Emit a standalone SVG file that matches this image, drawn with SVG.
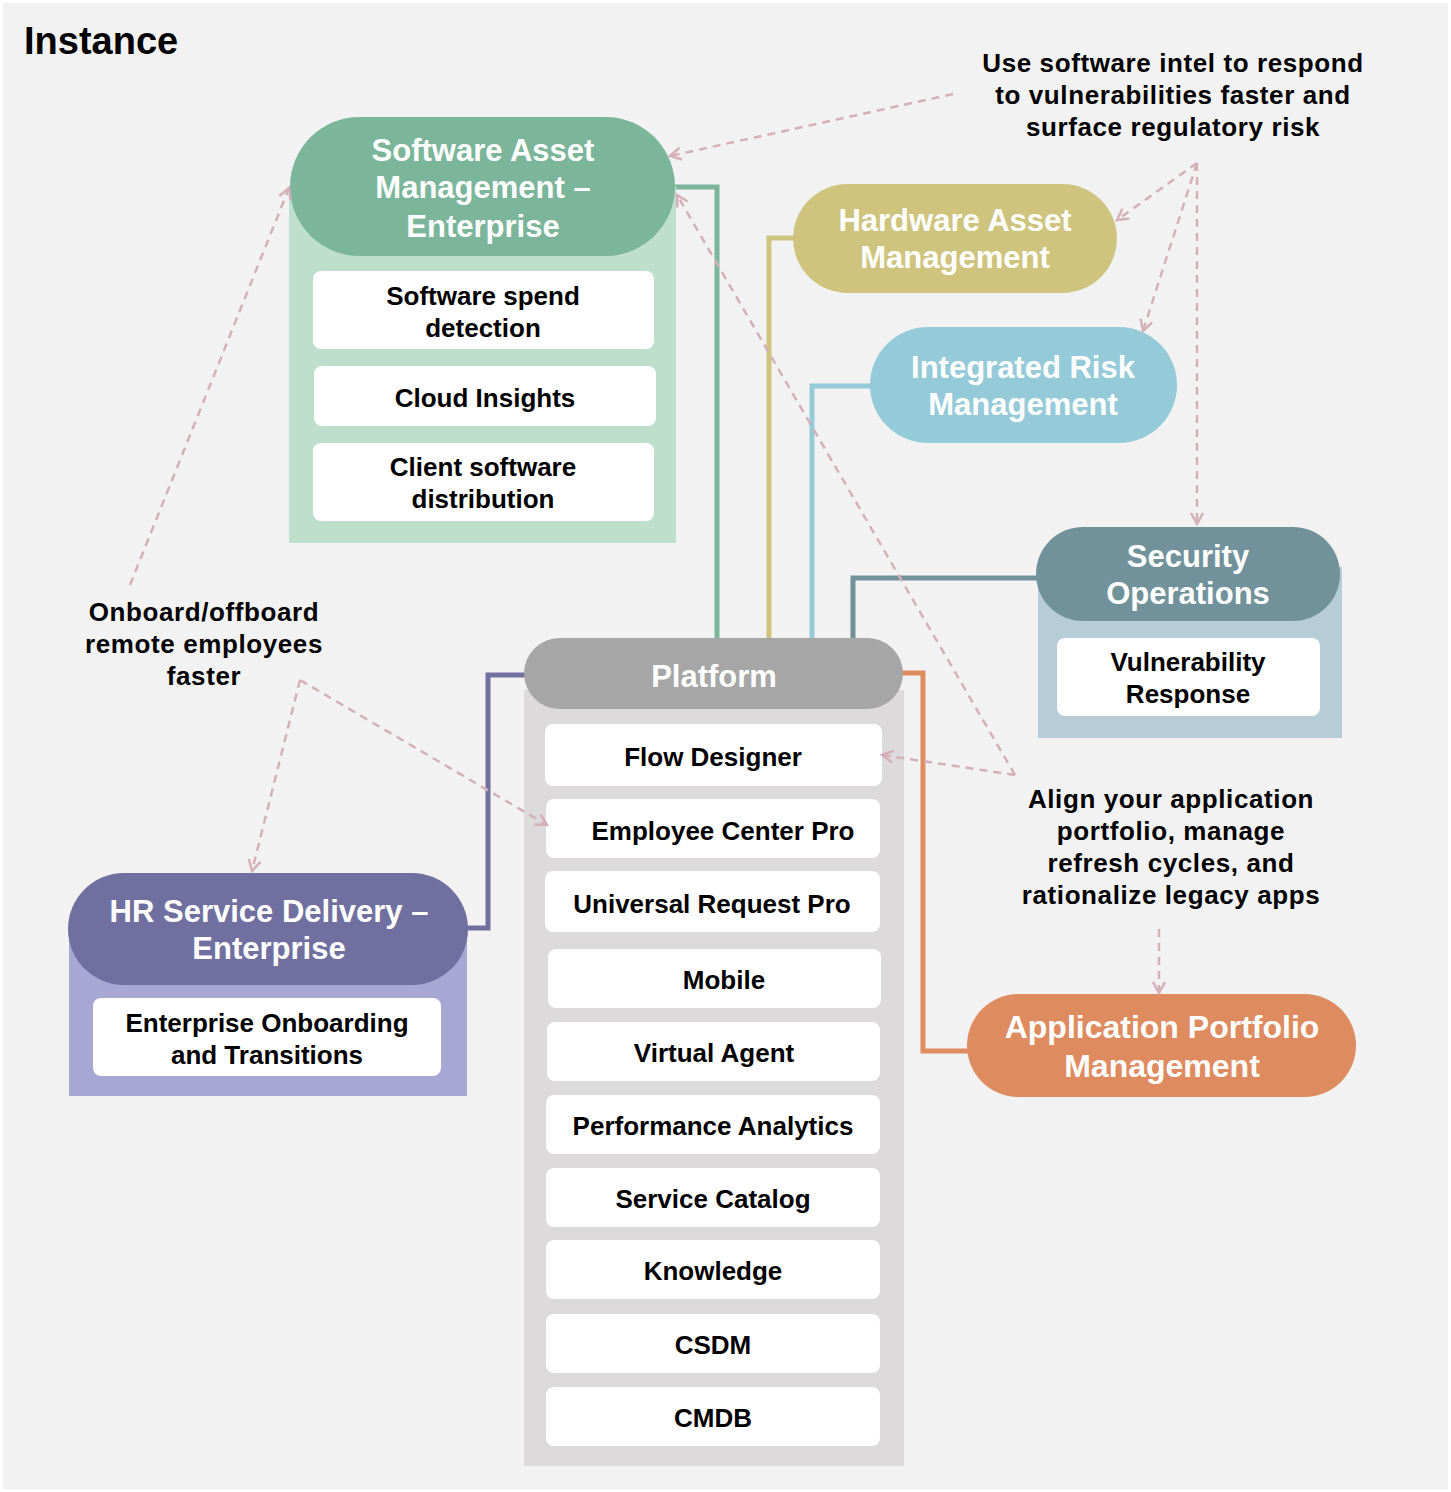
<svg xmlns="http://www.w3.org/2000/svg" width="1451" height="1492" viewBox="0 0 1451 1492">
<style>
text{font-family:"Liberation Sans","DejaVu Sans",sans-serif;font-weight:bold;text-anchor:middle}
.hd{fill:#ffffff;font-size:31px}
.it{fill:#000000;font-size:26px}
.an{fill:#000000;font-size:26px;letter-spacing:0.6px}
.box{fill:#ffffff}
.conn{fill:none;stroke-width:5;stroke-linejoin:miter}
.dash{fill:none;stroke:#d5b0b8;stroke-width:2.5;stroke-dasharray:8 6;marker-end:url(#arr)}
</style>
<defs>
<marker id="arr" markerUnits="userSpaceOnUse" markerWidth="16" markerHeight="16" refX="13" refY="7" orient="auto">
<path d="M2,1 L13,7 L2,13" fill="none" stroke="#d5b0b8" stroke-width="2.5"/>
</marker>
</defs>
<rect x="0" y="0" width="1451" height="1492" fill="#ffffff"/>
<rect x="3" y="3" width="1445" height="1486" fill="#f2f2f2"/>
<text x="24" y="54" style="font-size:38px;text-anchor:start;fill:#000">Instance</text>

<g id="connectors">
<polyline class="conn" stroke="#7bb59a" points="675,187 717,187 717,640"/>
<polyline class="conn" stroke="#cfc47e" points="795,238 769,238 769,640"/>
<polyline class="conn" stroke="#95cad8" points="872,386 812,386 812,640"/>
<polyline class="conn" stroke="#72929b" points="1038,578 853,578 853,640"/>
<polyline class="conn" stroke="#7070a0" points="526,675 488,675 488,928 466,928"/>
<polyline class="conn" stroke="#de8b5f" points="901,673 923,673 923,1051 969,1051"/>
</g>

<g id="sam">
<rect x="289" y="186" width="387" height="357" fill="#bddfcc"/>
<rect x="290" y="117" width="385" height="139" rx="69.5" fill="#7bb59a"/>
<text class="hd" x="483" y="161">Software Asset</text>
<text class="hd" x="483" y="198">Management –</text>
<text class="hd" x="483" y="237">Enterprise</text>
<rect class="box" x="313" y="271" width="341" height="78" rx="8"/>
<text class="it" x="483" y="305">Software spend</text>
<text class="it" x="483" y="337">detection</text>
<rect class="box" x="314" y="366" width="342" height="60" rx="8"/>
<text class="it" x="485" y="407">Cloud Insights</text>
<rect class="box" x="313" y="443" width="341" height="78" rx="8"/>
<text class="it" x="483" y="476">Client software</text>
<text class="it" x="483" y="508">distribution</text>
</g>

<g id="ham">
<rect x="793" y="184" width="324" height="109" rx="54.5" fill="#cfc47e"/>
<text class="hd" x="955" y="231">Hardware Asset</text>
<text class="hd" x="955" y="268">Management</text>
</g>

<g id="irm">
<rect x="870" y="327" width="307" height="116" rx="58" fill="#95cad8"/>
<text class="hd" x="1023" y="378">Integrated Risk</text>
<text class="hd" x="1023" y="415">Management</text>
</g>

<g id="secops">
<rect x="1038" y="567" width="304" height="171" fill="#b6cdd8"/>
<rect x="1036" y="527" width="304" height="94" rx="47" fill="#72929b"/>
<text class="hd" x="1188" y="567">Security</text>
<text class="hd" x="1188" y="604">Operations</text>
<rect class="box" x="1057" y="638" width="263" height="78" rx="8"/>
<text class="it" x="1188" y="671">Vulnerability</text>
<text class="it" x="1188" y="703">Response</text>
</g>

<g id="platform">
<rect x="524" y="690" width="380" height="776" fill="#dcdadb"/>
<rect x="524" y="638" width="379" height="71" rx="35.5" fill="#a6a6a6"/>
<text class="hd" x="714" y="687">Platform</text>
<rect class="box" x="545" y="724" width="337" height="62" rx="8"/>
<text class="it" x="713" y="766">Flow Designer</text>
<rect class="box" x="546" y="799" width="334" height="59" rx="8"/>
<text class="it" x="723" y="840">Employee Center Pro</text>
<rect class="box" x="545" y="871" width="335" height="61" rx="8"/>
<text class="it" x="712" y="913">Universal Request Pro</text>
<rect class="box" x="548" y="949" width="333" height="59" rx="8"/>
<text class="it" x="724" y="989">Mobile</text>
<rect class="box" x="547" y="1022" width="333" height="59" rx="8"/>
<text class="it" x="714" y="1062">Virtual Agent</text>
<rect class="box" x="546" y="1095" width="334" height="59" rx="8"/>
<text class="it" x="713" y="1135">Performance Analytics</text>
<rect class="box" x="546" y="1168" width="334" height="59" rx="8"/>
<text class="it" x="713" y="1208">Service Catalog</text>
<rect class="box" x="546" y="1240" width="334" height="59" rx="8"/>
<text class="it" x="713" y="1280">Knowledge</text>
<rect class="box" x="546" y="1314" width="334" height="59" rx="8"/>
<text class="it" x="713" y="1354">CSDM</text>
<rect class="box" x="546" y="1387" width="334" height="59" rx="8"/>
<text class="it" x="713" y="1427">CMDB</text>
</g>

<g id="hr">
<rect x="69" y="930" width="398" height="166" fill="#a7a7d3"/>
<rect x="68" y="873" width="400" height="112" rx="56" fill="#7070a0"/>
<text class="hd" x="269" y="922">HR Service Delivery –</text>
<text class="hd" x="269" y="959">Enterprise</text>
<rect class="box" x="93" y="998" width="348" height="78" rx="8"/>
<text class="it" x="267" y="1032">Enterprise Onboarding</text>
<text class="it" x="267" y="1064">and Transitions</text>
</g>

<g id="apm">
<rect x="967" y="994" width="389" height="103" rx="51.5" fill="#de8b5f"/>
<text class="hd" x="1162" y="1038" style="font-size:32px">Application Portfolio</text>
<text class="hd" x="1162" y="1077" style="font-size:32px">Management</text>
</g>

<g id="note-security">
<text class="an" x="1173" y="72">Use software intel to respond</text>
<text class="an" x="1173" y="104">to vulnerabilities faster and</text>
<text class="an" x="1173" y="136">surface regulatory risk</text>
</g>
<g id="note-onboard">
<text class="an" x="204" y="621">Onboard/offboard</text>
<text class="an" x="204" y="653">remote employees</text>
<text class="an" x="204" y="685">faster</text>
</g>
<g id="note-apm">
<text class="an" x="1171" y="808">Align your application</text>
<text class="an" x="1171" y="840">portfolio, manage</text>
<text class="an" x="1171" y="872">refresh cycles, and</text>
<text class="an" x="1171" y="904">rationalize legacy apps</text>
</g>

<g id="annotation-arrows">
<line class="dash" x1="953" y1="94" x2="670" y2="156"/>
<line class="dash" x1="1197" y1="163" x2="1117" y2="220"/>
<line class="dash" x1="1197" y1="163" x2="1143" y2="331"/>
<line class="dash" x1="1197" y1="163" x2="1197" y2="524"/>
<line class="dash" x1="130" y1="585" x2="289" y2="188"/>
<line class="dash" x1="1015" y1="775" x2="677" y2="195"/>
<line class="dash" x1="1015" y1="775" x2="882" y2="755"/>
<line class="dash" x1="1159" y1="929" x2="1159" y2="993"/>
<line class="dash" x1="300" y1="680" x2="252" y2="871"/>
<line class="dash" x1="300" y1="680" x2="547" y2="825"/>
</g>
</svg>
